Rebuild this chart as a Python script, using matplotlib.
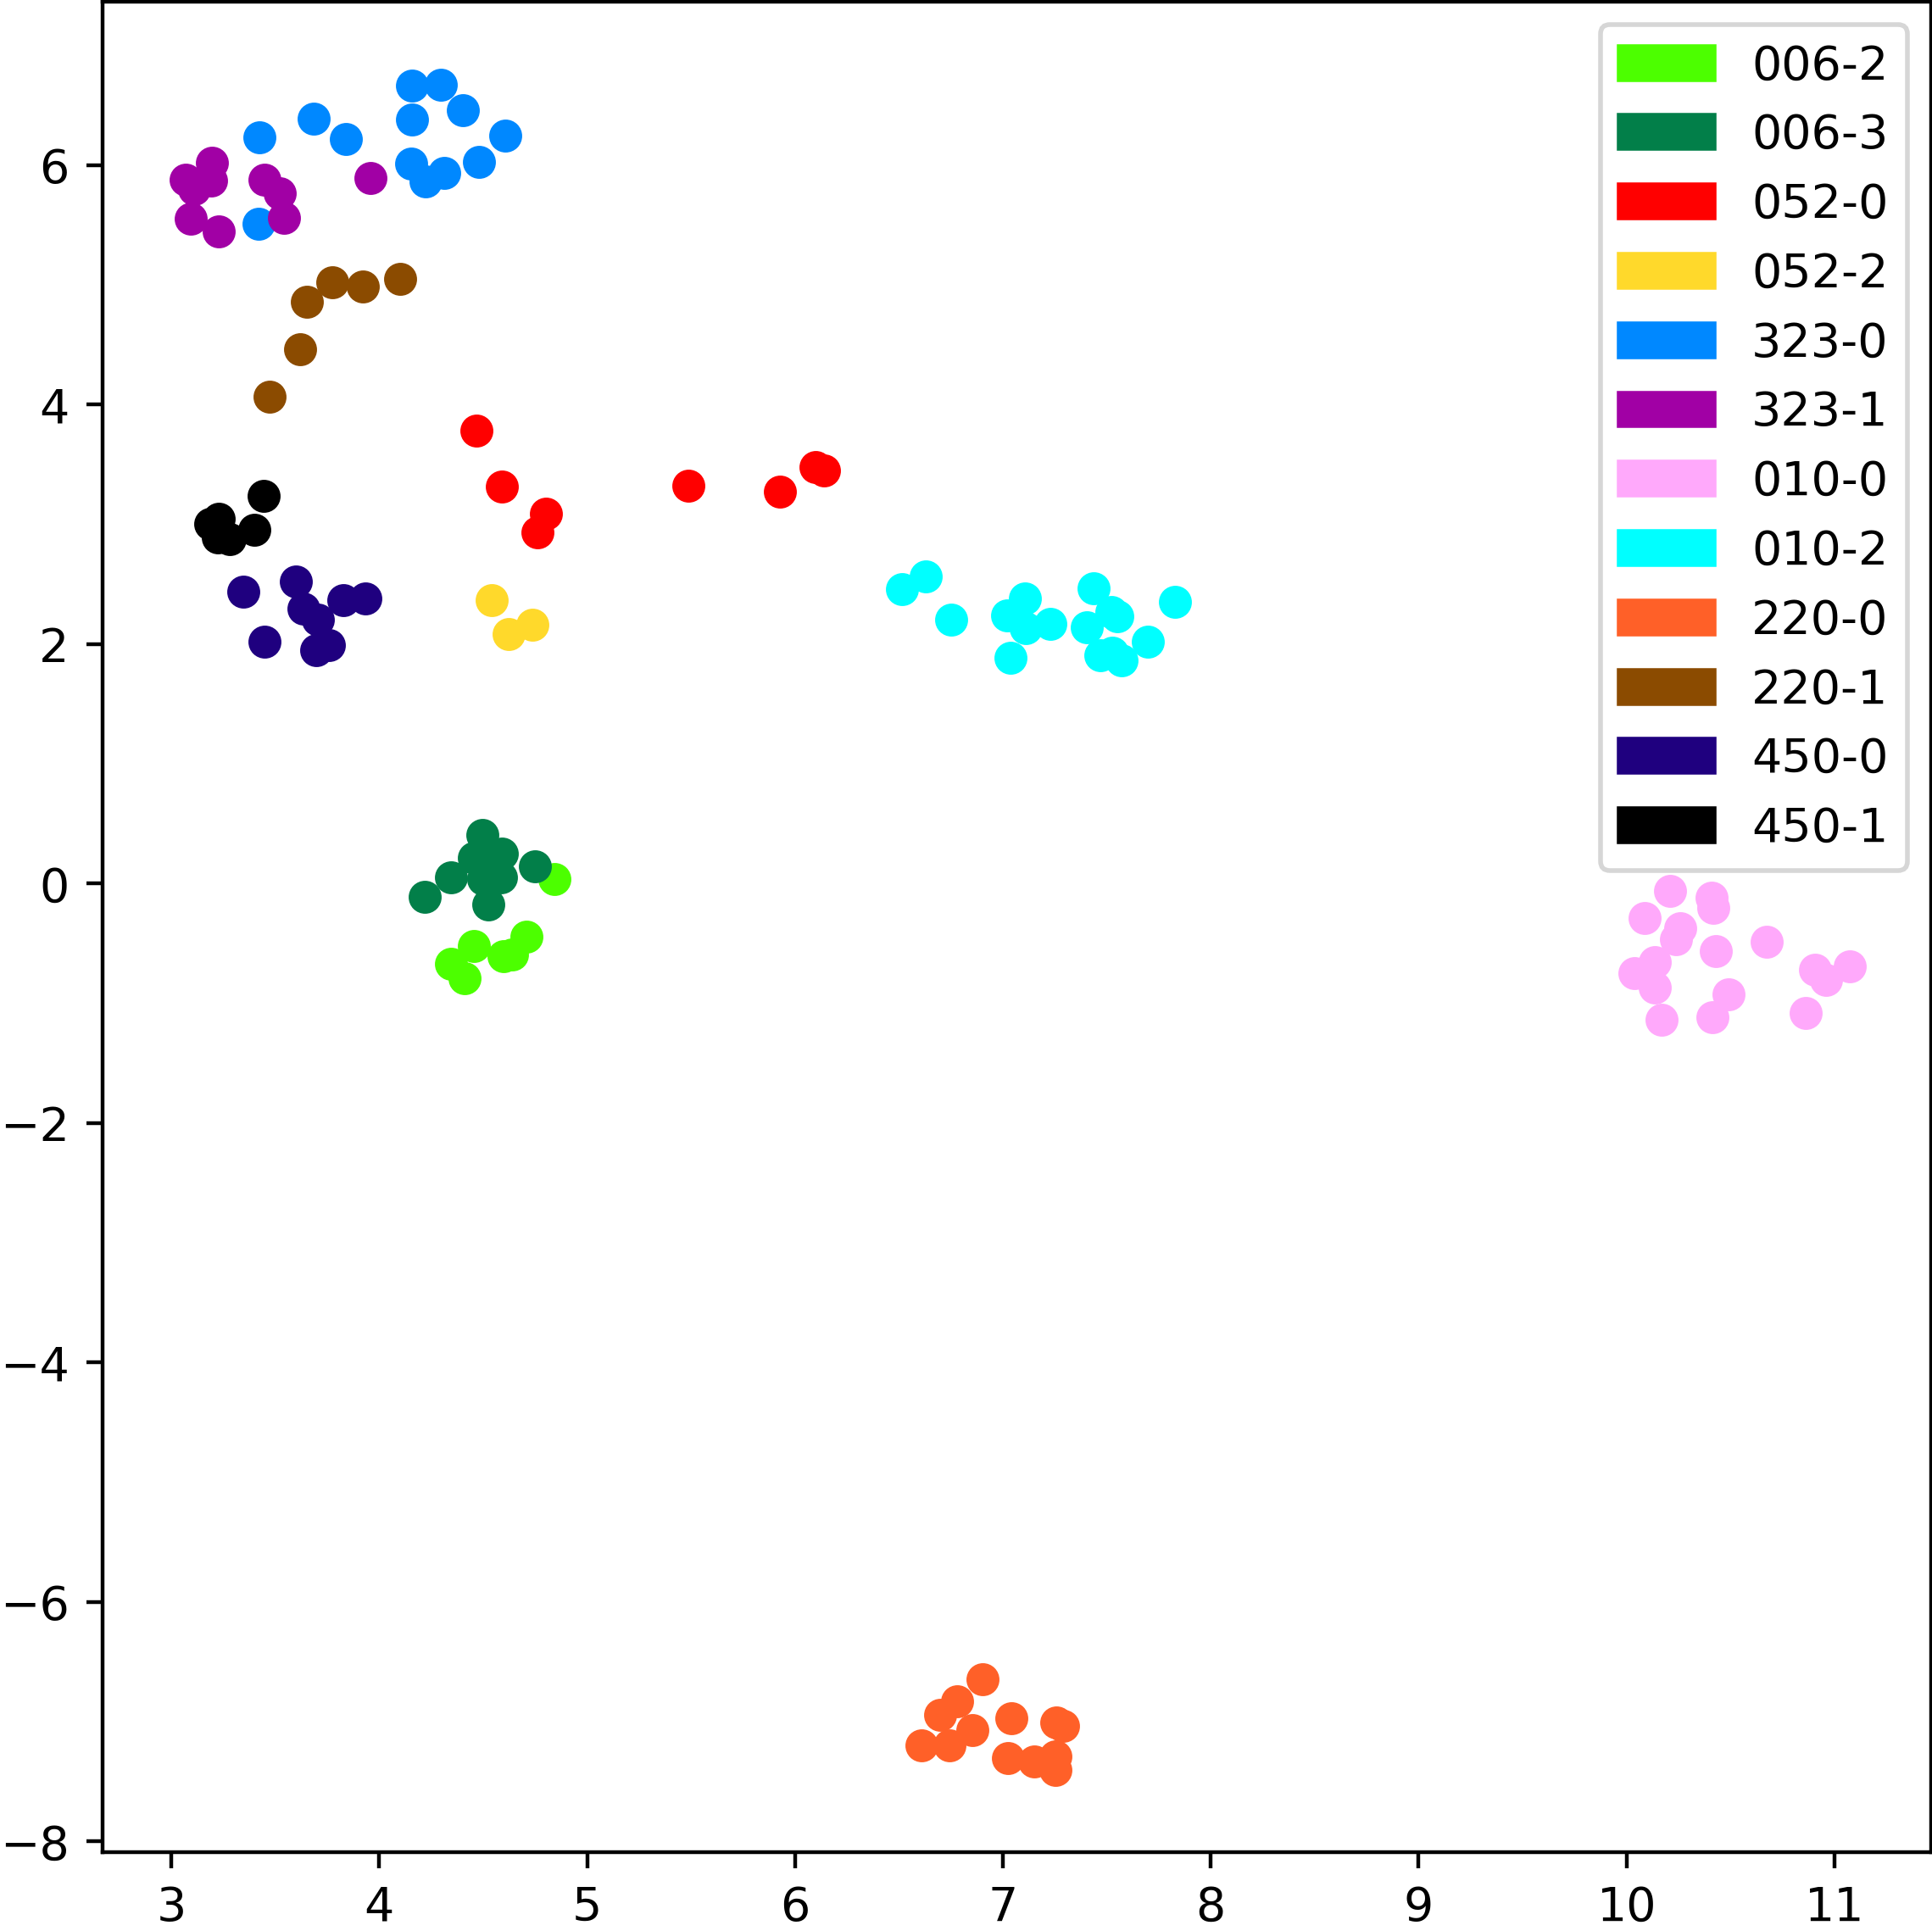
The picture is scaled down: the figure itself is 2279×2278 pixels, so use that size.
import matplotlib
matplotlib.use("Agg")
import matplotlib.pyplot as plt
from matplotlib.patches import Patch

labels = ["006-2", "006-3", "052-0", "052-2", "323-0", "323-1",
          "010-0", "010-2", "220-0", "220-1", "450-0", "450-1"]
colors = ["#4cff00", "#027f49", "#ff0000", "#ffd92b", "#0088ff", "#a100a5",
          "#ffa9fb", "#00ffff", "#ff6028", "#8b4b00", "#1f007f", "#000000"]

x_006_2 = [4.843, 4.346, 4.412, 4.457, 4.600, 4.639, 4.710]
y_006_2 = [0.037, -0.671, -0.787, -0.520, -0.605, -0.591, -0.444]

x_006_3 = [4.498, 4.457, 4.589, 4.346, 4.220, 4.502, 4.586, 4.525, 4.749, 4.528]
y_006_3 = [0.406, 0.217, 0.252, 0.052, -0.107, 0.040, 0.052, -0.173, 0.146, 0.146]

x_052_0 = [4.469, 4.592, 4.803, 4.763, 5.489, 5.928, 6.100, 6.141]
y_052_0 = [3.781, 3.316, 3.088, 2.931, 3.324, 3.273, 3.479, 3.448]

x_052_2 = [4.542, 4.623, 4.737]
y_052_2 = [2.365, 2.086, 2.162]

x_323_0 = [4.157, 4.297, 4.401, 4.159, 3.683, 3.423, 3.840, 4.608, 4.153,
           4.313, 4.224, 4.482, 3.418]
y_323_0 = [6.667, 6.671, 6.458, 6.385, 6.390, 6.234, 6.220, 6.246, 6.017,
           5.937, 5.863, 6.029, 5.512]

x_323_1 = [3.194, 3.068, 3.190, 3.108, 3.095, 3.228, 3.447, 3.523, 3.541, 3.958]
y_323_1 = [6.022, 5.878, 5.871, 5.800, 5.552, 5.446, 5.882, 5.769, 5.564, 5.894]

x_010_0 = [10.209, 10.086, 10.408, 10.416, 10.260, 10.236, 10.428, 10.675, 10.134,
           10.039, 10.134, 10.168, 10.489, 10.411, 10.906, 10.959, 11.072, 10.861]
y_010_0 = [-0.062, -0.288, -0.114, -0.203, -0.373, -0.463, -0.562, -0.484, -0.657,
           -0.746, -0.865, -1.134, -0.928, -1.115, -0.716, -0.805, -0.692, -1.081]

x_010_2 = [6.516, 6.628, 6.753, 7.022, 7.105, 7.111, 7.227, 7.035, 7.436,
           7.403, 7.524, 7.551, 7.467, 7.527, 7.572, 7.696, 7.826]
y_010_2 = [2.460, 2.568, 2.205, 2.242, 2.384, 2.134, 2.166, 1.888, 2.469,
           2.141, 2.271, 2.235, 1.904, 1.928, 1.862, 2.023, 2.353]

x_220_0 = [6.902, 6.778, 6.699, 6.852, 7.042, 7.255, 7.291, 6.607, 6.743,
           7.025, 7.150, 7.253, 7.253]
y_220_0 = [-6.648, -6.830, -6.941, -7.071, -6.972, -7.007, -7.035, -7.200, -7.200,
           -7.307, -7.331, -7.290, -7.401]

x_220_1 = [3.773, 3.922, 4.100, 3.652, 3.618, 3.471]
y_220_1 = [5.025, 4.990, 5.054, 4.860, 4.461, 4.065]

x_450_0 = [3.345, 3.599, 3.634, 3.705, 3.829, 3.933, 3.450, 3.760, 3.696]
y_450_0 = [2.440, 2.521, 2.294, 2.204, 2.370, 2.384, 2.023, 1.994, 1.947]

x_450_1 = [3.445, 3.186, 3.228, 3.225, 3.280, 3.400]
y_450_1 = [3.239, 3.002, 3.050, 2.889, 2.877, 2.955]

xs = [x_006_2, x_006_3, x_052_0, x_052_2, x_323_0, x_323_1,
      x_010_0, x_010_2, x_220_0, x_220_1, x_450_0, x_450_1]
ys = [y_006_2, y_006_3, y_052_0, y_052_2, y_323_0, y_323_1,
      y_010_0, y_010_2, y_220_0, y_220_1, y_450_0, y_450_1]

W, H, DPI = 2279, 2278, 400
fig = plt.figure(figsize=(W / DPI, H / DPI), dpi=DPI)
ax = fig.add_axes([120.6 / W, 93 / H, (2277.5 - 120.6) / W, (2276.5 - 93) / H])

for x, y, c in zip(xs, ys, colors):
    ax.scatter(x, y, color=c, s=36)

ax.set_xlim(2.668, 11.463)
ax.set_ylim(-8.09, 7.37)
ax.set_xticks(range(3, 12))
ax.set_yticks(range(-8, 7, 2))

handles = [Patch(color=c, label=l) for c, l in zip(colors, labels)]
ax.legend(handles=handles, loc="upper right")

fig.savefig("out.png", dpi=DPI)
